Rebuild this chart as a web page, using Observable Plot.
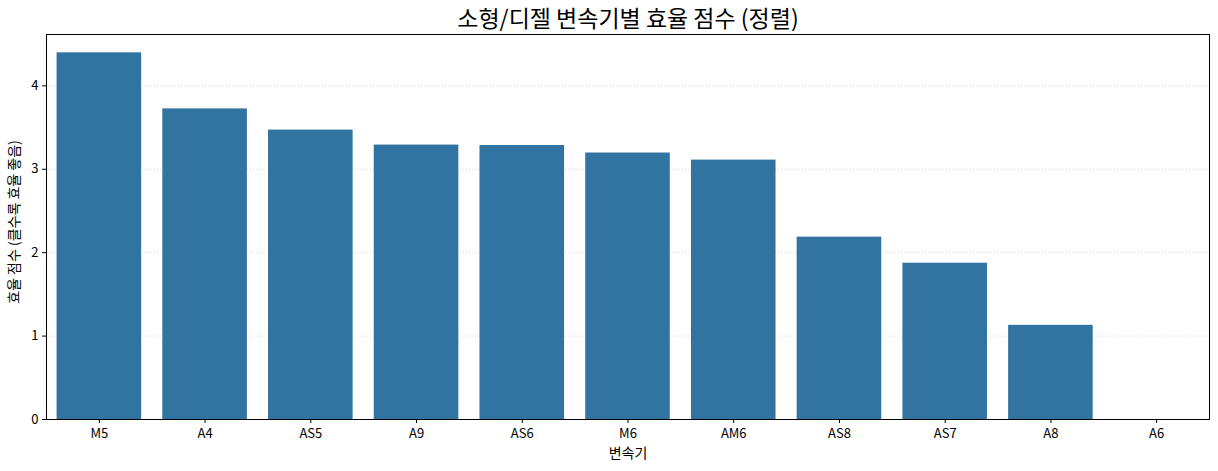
<!DOCTYPE html>
<html><head><meta charset="utf-8">
<script src="https://cdn.jsdelivr.net/npm/d3@7"></script>
<script src="https://cdn.jsdelivr.net/npm/@observablehq/plot@0.6"></script>
<style>
body{margin:0;background:#fff;}
svg{font-family:"Noto Sans CJK KR","Noto Sans",sans-serif;}
</style>
</head><body><div id="chart"></div>
<script>
const transmissions = ["M5","A4","AS5","A9","AS6","M6","AM6","AS8","AS7","A8","A6"];
const scores = [4.396,3.724,3.47,3.29,3.285,3.195,3.11,2.186,1.874,1.129,0];
const yTicks = [0,1,2,3,4];
const titleText = "소형/디젤 변속기별 효율 점수 (정렬)";
const xLabel = "변속기";
const yLabel = "효율 점수 (클수록 효율 좋음)";

const data = transmissions.map((t,i)=>({t, v: scores[i]}));
const yMax = d3.max(scores)*1.05;

const chart = Plot.plot({
  width:1218, height:471,
  marginTop:34, marginLeft:46, marginRight:9, marginBottom:52,
  style:{fontFamily:'"Noto Sans CJK KR","Noto Sans",sans-serif', fontSize:"13px", color:"#000", background:"#fff"},
  x:{domain:transmissions, paddingInner:0.2, paddingOuter:0.1, round:false, label:null},
  y:{domain:[0,yMax], label:null},
  marks:[
    Plot.gridY(yTicks,{stroke:"#b0b0b0", strokeOpacity:0.7, strokeDasharray:"1,2", strokeWidth:0.8}),
    Plot.barY(data,{x:"t", y:"v", fill:"#3274a1"}),
    Plot.frame({stroke:"#000", strokeWidth:1}),
    Plot.axisY(yTicks,{tickSize:4, tickPadding:4, fontSize:13, label:null, stroke:"#000", tickFormat:d3.format("d")}),
    Plot.axisX({tickSize:4, tickPadding:5, fontSize:13, label:null, stroke:"#000"}),
    Plot.text([titleText],{frameAnchor:"top", dy:-15, lineAnchor:"middle", textAnchor:"middle", fontSize:23, fill:"#000", text:d=>d}),
    Plot.text([xLabel],{frameAnchor:"bottom", dy:34, lineAnchor:"middle", textAnchor:"middle", fontSize:14, fill:"#000", text:d=>d}),
    Plot.text([yLabel],{frameAnchor:"left", dx:-32, dy:-5, rotate:-90, lineAnchor:"middle", textAnchor:"middle", fontSize:14, fill:"#000", text:d=>d})
  ]
});
document.getElementById("chart").appendChild(chart);
</script></body></html>
